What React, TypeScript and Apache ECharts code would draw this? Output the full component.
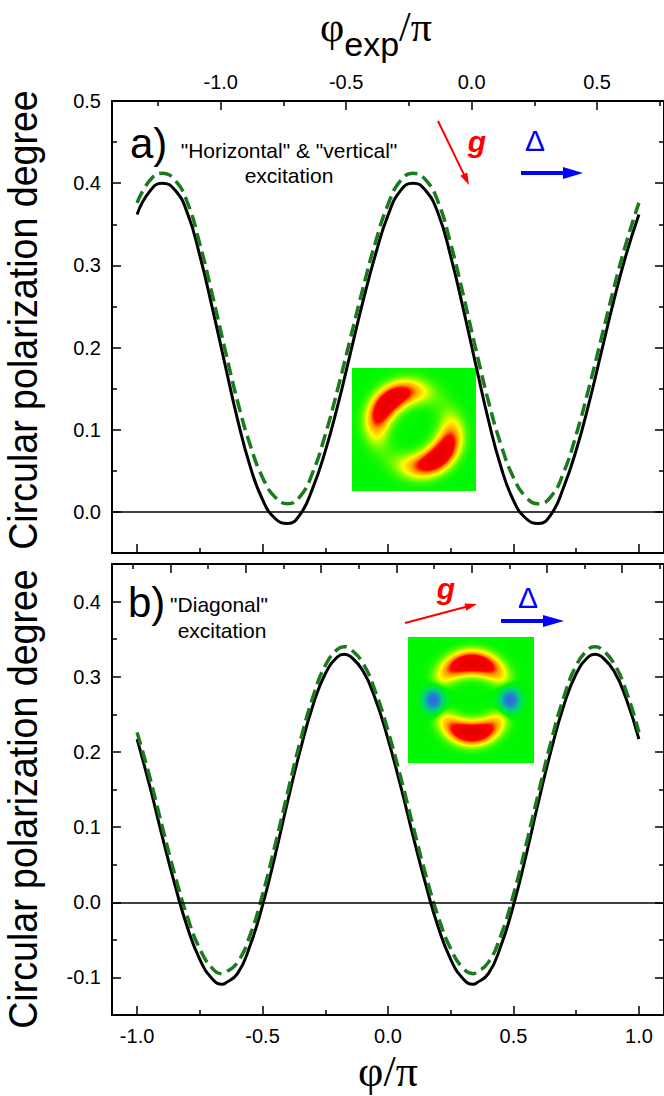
import React, { useEffect, useRef } from "react";
import * as echarts from "echarts";

// φ/π sample positions, panel a
const phiGridA = [
  -1.0, -0.95, -0.9, -0.85, -0.8, -0.75, -0.7, -0.65, -0.6, -0.55, -0.5, -0.45, -0.4, -0.35, -0.3, -0.25, -0.2, -0.15, -0.1, -0.05,
  0.0, 0.05, 0.1, 0.15, 0.2, 0.25, 0.3, 0.35, 0.4, 0.45, 0.5, 0.55, 0.6, 0.65, 0.7, 0.75, 0.8, 0.85, 0.9, 0.95, 1.0,
];

// panel a) "Horizontal" & "vertical" excitation
const cpdA_solid = [
  0.362, 0.39, 0.4, 0.392, 0.364, 0.312, 0.248, 0.18, 0.113, 0.056, 0.015, -0.008, -0.014, -0.003, 0.029, 0.074, 0.13, 0.193, 0.256, 0.313,
  0.361, 0.391, 0.4, 0.391, 0.363, 0.311, 0.247, 0.179, 0.112, 0.055, 0.014, -0.008, -0.014, -0.003, 0.03, 0.075, 0.131, 0.194, 0.257, 0.314, 0.362,
];
const cpdA_dashed = [
  0.376, 0.403, 0.412, 0.404, 0.377, 0.326, 0.264, 0.198, 0.135, 0.082, 0.042, 0.018, 0.01, 0.019, 0.048, 0.094, 0.15, 0.211, 0.272, 0.328,
  0.374, 0.403, 0.412, 0.404, 0.377, 0.326, 0.264, 0.198, 0.135, 0.082, 0.042, 0.018, 0.01, 0.019, 0.048, 0.094, 0.15, 0.211, 0.272, 0.328, 0.376,
];

// φ/π sample positions, panel b (extra samples at the extrema)
const phiGridB = [
  -1.0, -0.95, -0.9, -0.85, -0.8, -0.75, -0.7, -0.66, -0.65, -0.6, -0.55, -0.5, -0.45, -0.4, -0.35, -0.3, -0.25, -0.2, -0.175, -0.15, -0.1, -0.05,
  0.0, 0.05, 0.1, 0.15, 0.2, 0.25, 0.3, 0.34, 0.35, 0.4, 0.45, 0.5, 0.55, 0.6, 0.65, 0.7, 0.75, 0.8, 0.825, 0.85, 0.9, 0.95, 1.0,
];

// panel b) "Diagonal" excitation
const cpdB_solid = [
  0.217, 0.155, 0.088, 0.024, -0.033, -0.076, -0.102, -0.109, -0.108, -0.095, -0.058, -0.004, 0.062, 0.134, 0.202, 0.261, 0.304, 0.327, 0.33, 0.327, 0.308, 0.27,
  0.217, 0.155, 0.088, 0.024, -0.033, -0.076, -0.102, -0.109, -0.108, -0.095, -0.058, -0.004, 0.062, 0.134, 0.202, 0.261, 0.304, 0.327, 0.33, 0.327, 0.308, 0.27, 0.217,
];
const cpdB_dashed = [
  0.226, 0.167, 0.101, 0.037, -0.019, -0.062, -0.088, -0.095, -0.094, -0.08, -0.044, 0.01, 0.076, 0.146, 0.214, 0.272, 0.315, 0.337, 0.34, 0.337, 0.318, 0.28,
  0.228, 0.167, 0.101, 0.037, -0.019, -0.062, -0.088, -0.095, -0.094, -0.08, -0.044, 0.01, 0.076, 0.146, 0.214, 0.272, 0.315, 0.337, 0.34, 0.337, 0.318, 0.28, 0.226,
];

// ticks
const phiMajor = [-1, -0.5, 0, 0.5, 1];
const phiMinor = [-0.75, -0.25, 0.25, 0.75];
const phiExpMajor = [-1, -0.5, 0, 0.5];
const phiExpMinor = [-1.25, -0.75, -0.25, 0.25, 0.75];
const bTopMajor = [-1.2, -0.9, -0.6, -0.3, 0, 0.3, 0.6];
const bTopMinor = [-1.35, -1.05, -0.75, -0.45, -0.15, 0.15, 0.45, 0.75];
const yAMajor = [0, 0.1, 0.2, 0.3, 0.4, 0.5];
const yAMinor = [0.05, 0.15, 0.25, 0.35, 0.45];
const yBMajor = [-0.1, 0, 0.1, 0.2, 0.3, 0.4];
const yBMinor = [-0.05, 0.05, 0.15, 0.25, 0.35];

const PHI_MIN = -1.1;
const PHI_MAX = 1.1;
const PHI_EXP_SHIFT = 1 / 3;

const SANS = "'Liberation Sans', Arial, sans-serif";
const SERIF = "'Liberation Serif', 'Times New Roman', serif";

const sq = (v: number) => v * v;

type Stop = [number, number[]];
function ramp(stops: Stop[], t: number): number[] {
  if (t <= stops[0][0]) return stops[0][1];
  for (let i = 1; i < stops.length; i++) {
    if (t <= stops[i][0]) {
      const [t0, c0] = stops[i - 1];
      const [t1, c1] = stops[i];
      const k = (t - t0) / (t1 - t0);
      return c0.map((c, j) => c + (c1[j] - c) * k);
    }
  }
  return stops[stops.length - 1][1];
}
const POS: Stop[] = [
  [0, [0, 248, 0]],
  [0.22, [255, 255, 0]],
  [0.42, [255, 150, 0]],
  [0.58, [255, 0, 0]],
  [1, [228, 0, 0]],
];
const NEG: Stop[] = [
  [0, [0, 248, 0]],
  [0.35, [0, 205, 140]],
  [0.75, [40, 120, 215]],
  [1, [40, 105, 210]],
];

function angDiff(a: number, b: number) {
  let d = a - b;
  while (d > Math.PI) d -= 2 * Math.PI;
  while (d < -Math.PI) d += 2 * Math.PI;
  return d;
}
function crescent(x: number, y: number, cx: number, cy: number, R: number, w: number, th0: number, dth: number) {
  const dx = x - cx;
  const dy = cy - y;
  const r = Math.sqrt(dx * dx + dy * dy);
  const th = Math.atan2(dy, dx);
  const a = angDiff(th, th0);
  return Math.exp(-sq((r - R) / w)) * Math.exp(-sq(a / dth));
}
function blob(x: number, y: number, cx: number, cy: number, sx: number, sy: number) {
  return Math.exp(-sq((x - cx) / sx) - sq((y - cy) / sy));
}
function makeInset(w: number, h: number, field: (x: number, y: number) => number): string {
  const c = document.createElement("canvas");
  c.width = w;
  c.height = h;
  const ctx = c.getContext("2d");
  if (!ctx) return "";
  const img = ctx.createImageData(w, h);
  for (let y = 0; y < h; y++) {
    for (let x = 0; x < w; x++) {
      const f = field(x + 0.5, y + 0.5);
      const col = f >= 0 ? ramp(POS, f) : ramp(NEG, -f);
      const i = (y * w + x) * 4;
      img.data[i] = col[0];
      img.data[i + 1] = col[1];
      img.data[i + 2] = col[2];
      img.data[i + 3] = 255;
    }
  }
  ctx.putImageData(img, 0, 0);
  return c.toDataURL();
}

function axis(o: any) {
  return {
    type: "value",
    gridIndex: o.grid,
    position: o.pos,
    min: o.min,
    max: o.max,
    axisLine: { show: !!o.line, onZero: false, lineStyle: { color: "#000", width: 2 } },
    axisTick: {
      show: true,
      inside: true,
      length: o.len,
      lineStyle: { color: "#000", width: 1.5 },
      customValues: o.ticks,
    },
    axisLabel: o.labels
      ? {
          show: true,
          customValues: o.labels,
          formatter: (v: number) => v.toFixed(1),
          margin: o.margin,
          fontFamily: SANS,
          fontSize: 20,
          color: "#000",
        }
      : { show: false },
    splitLine: { show: false },
    name: o.name,
    nameLocation: "middle",
    nameGap: o.nameGap,
    nameTextStyle: o.nameStyle,
  };
}

function arrow(x1: number, y1: number, x2: number, y2: number, color: string, width: number, hl: number, hw: number) {
  const dx = x2 - x1;
  const dy = y2 - y1;
  const L = Math.sqrt(dx * dx + dy * dy);
  const ux = dx / L;
  const uy = dy / L;
  const bx = x2 - ux * hl;
  const by = y2 - uy * hl;
  const nx = -uy;
  const ny = ux;
  return [
    { type: "line", shape: { x1, y1, x2: bx + ux, y2: by + uy }, style: { stroke: color, lineWidth: width }, z: 10 },
    {
      type: "polygon",
      shape: { points: [[x2, y2], [bx + nx * hw, by + ny * hw], [bx - nx * hw, by - ny * hw]] },
      style: { fill: color },
      z: 10,
    },
  ];
}

export default function App() {
  const ref = useRef<HTMLDivElement>(null);
  useEffect(() => {
    const el = ref.current;
    if (!el) return;
    const chart = echarts.init(el, null, { renderer: "svg" });

    const insetA = makeInset(124, 123, (x, y) =>
      crescent(x, y, 62, 61, 37, 11.5, (133 * Math.PI) / 180, 0.85) +
      crescent(x, y, 62, 61, 37, 11.5, (-47 * Math.PI) / 180, 0.85)
    );
    const insetB = makeInset(126, 126, (x, y) =>
      crescent(x, y, 64, 63, 37, 10.5, Math.PI / 2, 0.8) +
      crescent(x, y, 64, 63, 33, 10.5, -Math.PI / 2, 0.85) -
      0.95 * blob(x, y, 25.5, 63, 9.5, 11) -
      0.95 * blob(x, y, 102, 63, 9.5, 11)
    );

    const GL = 112;
    const GW = 556;
    const toPairs = (xs: number[], ys: number[]) => xs.map((p, i) => [p, ys[i]]);
    const zeroLine = {
      silent: true,
      symbol: "none",
      label: { show: false },
      lineStyle: { color: "#000", width: 1.6, type: "solid" },
      data: [{ yAxis: 0 }],
    };
    const solid = { color: "#000", width: 3 };
    const dashed = { color: "#1b7a1b", width: 3.5, type: [13, 6] };

    const ynameStyle = {
      fontFamily: SANS,
      fontSize: 40,
      fill: "#000",
      textAlign: "center",
      textVerticalAlign: "middle",
    };

    const option: any = {
      animation: false,
      backgroundColor: "#fff",
      grid: [
        { left: GL, top: 101, width: GW, height: 452, containLabel: false },
        { left: GL, top: 564, width: GW, height: 451, containLabel: false },
      ],
      xAxis: [
        axis({ grid: 0, pos: "bottom", min: PHI_MIN, max: PHI_MAX, line: true, len: 9, ticks: phiMajor }),
        axis({ grid: 0, pos: "bottom", min: PHI_MIN, max: PHI_MAX, line: false, len: 5, ticks: phiMinor }),
        axis({
          grid: 0,
          pos: "top",
          min: PHI_MIN - PHI_EXP_SHIFT,
          max: PHI_MAX - PHI_EXP_SHIFT,
          line: true,
          len: 9,
          ticks: phiExpMajor,
          labels: phiExpMajor,
          margin: 9,
          name: "{p|φ}{s|exp}{p|/π}",
          nameGap: 40,
          nameStyle: {
            padding: [0, 24, 0, 0],
            rich: {
              p: { fontFamily: SERIF, fontSize: 42, color: "#000", verticalAlign: "top" },
              s: { fontFamily: SANS, fontSize: 34, color: "#000", verticalAlign: "top", padding: [21, 0, 0, 0] },
            },
          },
        }),
        axis({ grid: 0, pos: "top", min: PHI_MIN - PHI_EXP_SHIFT, max: PHI_MAX - PHI_EXP_SHIFT, line: false, len: 5, ticks: phiExpMinor }),
        axis({
          grid: 1,
          pos: "bottom",
          min: PHI_MIN,
          max: PHI_MAX,
          line: true,
          len: 9,
          ticks: phiMajor,
          labels: phiMajor,
          margin: 11,
          name: "φ/π",
          nameGap: 34,
          nameStyle: { fontFamily: SERIF, fontSize: 44, color: "#000", verticalAlign: "top" },
        }),
        axis({ grid: 1, pos: "bottom", min: PHI_MIN, max: PHI_MAX, line: false, len: 5, ticks: phiMinor }),
        axis({ grid: 1, pos: "top", min: PHI_MIN - PHI_EXP_SHIFT, max: PHI_MAX - PHI_EXP_SHIFT, line: true, len: 9, ticks: bTopMajor }),
        axis({ grid: 1, pos: "top", min: PHI_MIN - PHI_EXP_SHIFT, max: PHI_MAX - PHI_EXP_SHIFT, line: false, len: 5, ticks: bTopMinor }),
      ],
      yAxis: [
        axis({ grid: 0, pos: "left", min: -0.05, max: 0.5, line: true, len: 9, ticks: yAMajor, labels: yAMajor, margin: 11 }),
        axis({ grid: 0, pos: "left", min: -0.05, max: 0.5, line: false, len: 5, ticks: yAMinor }),
        axis({ grid: 0, pos: "right", min: -0.05, max: 0.5, line: true, len: 9, ticks: yAMajor }),
        axis({ grid: 0, pos: "right", min: -0.05, max: 0.5, line: false, len: 5, ticks: yAMinor }),
        axis({ grid: 1, pos: "left", min: -0.15, max: 0.45, line: true, len: 9, ticks: yBMajor, labels: yBMajor, margin: 11 }),
        axis({ grid: 1, pos: "left", min: -0.15, max: 0.45, line: false, len: 5, ticks: yBMinor }),
        axis({ grid: 1, pos: "right", min: -0.15, max: 0.45, line: true, len: 9, ticks: yBMajor }),
        axis({ grid: 1, pos: "right", min: -0.15, max: 0.45, line: false, len: 5, ticks: yBMinor }),
      ],
      series: [
        {
          name: "a calc",
          type: "line",
          xAxisIndex: 0,
          yAxisIndex: 0,
          data: toPairs(phiGridA, cpdA_solid),
          symbol: "none",
          smooth: true,
          lineStyle: solid,
          markLine: zeroLine,
          z: 3,
        },
        {
          name: "a alt",
          type: "line",
          xAxisIndex: 0,
          yAxisIndex: 0,
          data: toPairs(phiGridA, cpdA_dashed),
          symbol: "none",
          smooth: true,
          lineStyle: dashed,
          z: 4,
        },
        {
          name: "b calc",
          type: "line",
          xAxisIndex: 4,
          yAxisIndex: 4,
          data: toPairs(phiGridB, cpdB_solid),
          symbol: "none",
          smooth: true,
          lineStyle: solid,
          markLine: zeroLine,
          z: 3,
        },
        {
          name: "b alt",
          type: "line",
          xAxisIndex: 4,
          yAxisIndex: 4,
          data: toPairs(phiGridB, cpdB_dashed),
          symbol: "none",
          smooth: true,
          lineStyle: dashed,
          z: 4,
        },
      ],
      graphic: [
        { type: "image", style: { image: insetA, x: 352, y: 368, width: 124, height: 123 }, z: 1 },
        { type: "image", style: { image: insetB, x: 408, y: 637, width: 126, height: 126 }, z: 1 },
        {
          type: "text",
          x: 23,
          y: 320,
          rotation: Math.PI / 2,
          scaleX: 0.94,
          style: { ...ynameStyle, text: "Circular polarization degree" },
        },
        {
          type: "text",
          x: 23,
          y: 799,
          rotation: Math.PI / 2,
          scaleX: 0.94,
          style: { ...ynameStyle, text: "Circular polarization degree" },
        },
        { type: "text", x: 130, y: 143, style: { text: "a)", fontFamily: SANS, fontSize: 42, fill: "#000", textVerticalAlign: "middle" } },
        { type: "text", x: 128, y: 602, style: { text: "b)", fontFamily: SANS, fontSize: 42, fill: "#000", textVerticalAlign: "middle" } },
        {
          type: "text",
          x: 289,
          y: 150,
          style: { text: '"Horizontal" & "vertical"', fontFamily: SANS, fontSize: 21, fill: "#000", textAlign: "center", textVerticalAlign: "middle" },
        },
        {
          type: "text",
          x: 289,
          y: 175,
          style: { text: "excitation", fontFamily: SANS, fontSize: 21, fill: "#000", textAlign: "center", textVerticalAlign: "middle" },
        },
        {
          type: "text",
          x: 219,
          y: 604,
          style: { text: '"Diagonal"', fontFamily: SANS, fontSize: 21, fill: "#000", textAlign: "center", textVerticalAlign: "middle" },
        },
        {
          type: "text",
          x: 222,
          y: 630,
          style: { text: "excitation", fontFamily: SANS, fontSize: 21, fill: "#000", textAlign: "center", textVerticalAlign: "middle" },
        },
        {
          type: "text",
          x: 477,
          y: 141,
          style: { text: "g", fontFamily: SANS, fontSize: 30, fontWeight: "bold", fontStyle: "italic", fill: "#ff0000", textAlign: "center", textVerticalAlign: "middle" },
        },
        {
          type: "text",
          x: 446,
          y: 588,
          style: { text: "g", fontFamily: SANS, fontSize: 30, fontWeight: "bold", fontStyle: "italic", fill: "#ff0000", textAlign: "center", textVerticalAlign: "middle" },
        },
        {
          type: "text",
          x: 535,
          y: 140,
          style: { text: "Δ", fontFamily: SANS, fontSize: 30, fill: "#0000ff", textAlign: "center", textVerticalAlign: "middle" },
        },
        {
          type: "text",
          x: 528,
          y: 597,
          style: { text: "Δ", fontFamily: SANS, fontSize: 30, fill: "#0000ff", textAlign: "center", textVerticalAlign: "middle" },
        },
        ...arrow(438, 121, 469, 185, "#ff0000", 2, 12, 3.8),
        ...arrow(405, 623, 477, 604, "#ff0000", 2, 12, 3.8),
        ...arrow(521, 173, 583, 173, "#0000ff", 4, 20, 6),
        ...arrow(501, 621, 564, 621, "#0000ff", 4, 21, 6),
      ],
    };
    chart.setOption(option);
    return () => chart.dispose();
  }, []);
  return (
    <div style={{ position: "fixed", left: 0, top: 0, width: 664, height: 1096, background: "#fff", overflow: "hidden" }}>
      <div ref={ref} style={{ width: 664, height: 1096 }} />
    </div>
  );
}
